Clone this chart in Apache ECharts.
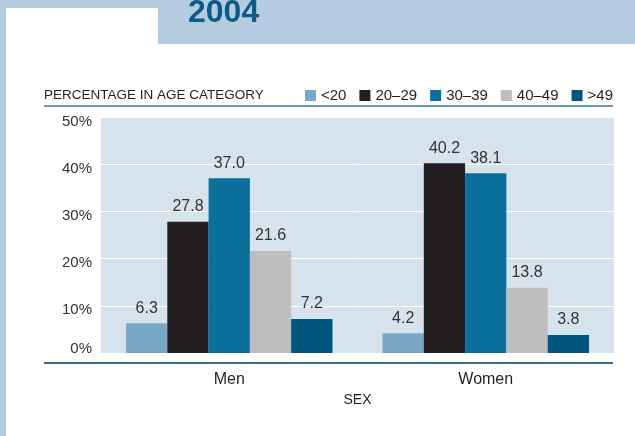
<!DOCTYPE html>
<html>
<head>
<meta charset="utf-8">
<script src="https://cdn.jsdelivr.net/npm/echarts@6/dist/echarts.min.js"></script>
<style>
  html, body { margin: 0; padding: 0; background: #b5cce0; }
  .paper { position: absolute; left: 6px; top: 8px; right: 0; bottom: 0; background: #fff; }
  .band { position: absolute; left: 158px; top: 0; right: 0; height: 44px; background: #b5cce0; }
  #chart { position: absolute; left: 0; top: 0; width: 635px; height: 436px; }
</style>
</head>
<body>
<div class="paper"></div>
<div class="band"></div>
<div id="chart"></div>
<script>
// categories and values
const sexes = ['Men', 'Women']
const ageGroups = ['<20', '20–29', '30–39', '40–49', '>49']
const under20 = [6.3, 4.2]
const age20to29 = [27.8, 40.2]
const age30to39 = [37.0, 38.1]
const age40to49 = [21.6, 13.8]
const over49 = [7.2, 3.8]
const yTicks = [0, 10, 20, 30, 40, 50]

const colors = ['#7ba7c7', '#231f20', '#0a6f9b', '#bcbec0', '#00557f']
const font = 'Liberation Sans, Arial, sans-serif'

const chart = echarts.init(document.getElementById('chart'))
const seriesData = [under20, age20to29, age30to39, age40to49, over49]

chart.setOption({
  backgroundColor: 'transparent',
  textStyle: { fontFamily: font },
  title: {
    text: '2004', left: 188, top: -3, padding: 0,
    textStyle: { fontSize: 32, fontWeight: 'bold', color: '#0b5a88', fontFamily: font }
  },
  legend: {
    data: ageGroups, right: 22, top: 88, padding: 0,
    itemWidth: 11, itemHeight: 11, itemGap: 13,
    icon: 'rect',
    textStyle: { fontSize: 15, color: '#231f20', fontFamily: font }
  },
  graphic: [
    { type: 'text', left: 44, top: 88, style: { text: 'PERCENTAGE IN AGE CATEGORY', fontSize: 13.5, fill: '#231f20', fontFamily: font } },
    { type: 'line', shape: { x1: 44, y1: 106, x2: 613, y2: 106 }, style: { stroke: '#6d9ab8', lineWidth: 2 } },
    { type: 'line', shape: { x1: 44, y1: 363, x2: 613, y2: 363 }, style: { stroke: '#3d6f90', lineWidth: 2 } }
  ],
  grid: {
    left: 101, right: 21, top: 117, bottom: 83,
    show: true, backgroundColor: '#d6e3ed', borderWidth: 0
  },
  xAxis: {
    type: 'category', data: sexes,
    name: 'SEX', nameLocation: 'middle', nameGap: 40,
    nameTextStyle: { fontSize: 14, color: '#231f20' },
    axisLine: { show: false }, axisTick: { show: false },
    axisLabel: { fontSize: 16, color: '#231f20', margin: 19 }
  },
  yAxis: {
    type: 'value', min: yTicks[0], max: yTicks[yTicks.length - 1], interval: 10,
    axisLine: { show: false }, axisTick: { show: false },
    splitLine: { lineStyle: { color: '#ffffff', width: 1 } },
    axisLabel: {
      formatter: v => (v === 0 ? '{z|0%}' : '{a|' + v + '%}'),
      fontSize: 15, color: '#333', margin: 9,
      rich: {
        a: { fontSize: 15, color: '#333', padding: [9, 0, 0, 0] },
        z: { fontSize: 15, color: '#333', padding: [0, 0, 9, 0] }
      }
    }
  },
  series: ageGroups.map((name, i) => ({
    name, type: 'bar', data: seriesData[i],
    barGap: '0%', barCategoryGap: '19.5%',
    itemStyle: { color: colors[i] },
    label: {
      show: true, position: 'top', distance: 7,
      formatter: p => p.value.toFixed(1),
      fontSize: 16, color: '#333'
    }
  }))
})
</script>
</body>
</html>
